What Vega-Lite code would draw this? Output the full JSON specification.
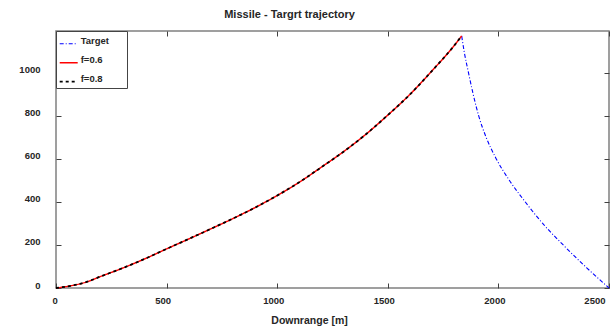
{
  "$schema": "https://vega.github.io/schema/vega-lite/v6.json",
  "autosize": {"type": "none"},
  "padding": {"left": 56, "top": 31, "right": 5, "bottom": 38},
  "width": 553,
  "height": 257,
  "background": "white",
  "title": {
    "text": "Missile - Targrt trajectory",
    "anchor": "middle",
    "frame": "group",
    "dx": -43,
    "offset": 2,
    "baseline": "alphabetic",
    "fontSize": 11,
    "font": "Liberation Sans",
    "fontWeight": "bold",
    "color": "#262626"
  },
  "config": {
    "view": {"stroke": "#808080", "strokeWidth": 1.5},
    "axis": {
      "domain": false,
      "grid": false,
      "tickColor": "#404040",
      "tickWidth": 1,
      "tickSize": -5,
      "labelFont": "Liberation Sans",
      "labelFontWeight": "bold",
      "labelFontSize": 9.5,
      "labelColor": "#262626",
      "titleFont": "Liberation Sans",
      "titleFontWeight": "bold",
      "titleFontSize": 10.5,
      "titleColor": "#262626"
    }
  },
  "data": {
    "values": [
      {"series": "Target", "x": 1834, "y": 1172},
      {"series": "Target", "x": 1846, "y": 1095},
      {"series": "Target", "x": 1865, "y": 1000},
      {"series": "Target", "x": 1886, "y": 901},
      {"series": "Target", "x": 1911, "y": 800},
      {"series": "Target", "x": 1944, "y": 702},
      {"series": "Target", "x": 1988, "y": 605},
      {"series": "Target", "x": 2050, "y": 500},
      {"series": "Target", "x": 2120, "y": 402},
      {"series": "Target", "x": 2203, "y": 297},
      {"series": "Target", "x": 2293, "y": 200},
      {"series": "Target", "x": 2398, "y": 95},
      {"series": "Target", "x": 2500, "y": 0},
      {"series": "f=0.6", "x": 0, "y": 0},
      {"series": "f=0.6", "x": 60, "y": 9},
      {"series": "f=0.6", "x": 138, "y": 28},
      {"series": "f=0.6", "x": 200, "y": 53},
      {"series": "f=0.6", "x": 300, "y": 92},
      {"series": "f=0.6", "x": 400, "y": 135},
      {"series": "f=0.6", "x": 500, "y": 182},
      {"series": "f=0.6", "x": 600, "y": 228},
      {"series": "f=0.6", "x": 700, "y": 275},
      {"series": "f=0.6", "x": 800, "y": 323},
      {"series": "f=0.6", "x": 900, "y": 374},
      {"series": "f=0.6", "x": 1000, "y": 430},
      {"series": "f=0.6", "x": 1100, "y": 492},
      {"series": "f=0.6", "x": 1200, "y": 562},
      {"series": "f=0.6", "x": 1300, "y": 634},
      {"series": "f=0.6", "x": 1400, "y": 714},
      {"series": "f=0.6", "x": 1500, "y": 804},
      {"series": "f=0.6", "x": 1600, "y": 900},
      {"series": "f=0.6", "x": 1700, "y": 1010},
      {"series": "f=0.6", "x": 1800, "y": 1127},
      {"series": "f=0.6", "x": 1834, "y": 1172},
      {"series": "f=0.8", "x": 0, "y": 0},
      {"series": "f=0.8", "x": 60, "y": 9},
      {"series": "f=0.8", "x": 138, "y": 28},
      {"series": "f=0.8", "x": 200, "y": 53},
      {"series": "f=0.8", "x": 300, "y": 92},
      {"series": "f=0.8", "x": 400, "y": 135},
      {"series": "f=0.8", "x": 500, "y": 182},
      {"series": "f=0.8", "x": 600, "y": 228},
      {"series": "f=0.8", "x": 700, "y": 275},
      {"series": "f=0.8", "x": 800, "y": 323},
      {"series": "f=0.8", "x": 900, "y": 374},
      {"series": "f=0.8", "x": 1000, "y": 430},
      {"series": "f=0.8", "x": 1100, "y": 492},
      {"series": "f=0.8", "x": 1200, "y": 562},
      {"series": "f=0.8", "x": 1300, "y": 634},
      {"series": "f=0.8", "x": 1400, "y": 714},
      {"series": "f=0.8", "x": 1500, "y": 804},
      {"series": "f=0.8", "x": 1600, "y": 900},
      {"series": "f=0.8", "x": 1700, "y": 1010},
      {"series": "f=0.8", "x": 1800, "y": 1127},
      {"series": "f=0.8", "x": 1834, "y": 1172}
    ]
  },
  "layer": [
    {
      "mark": {"type": "line", "interpolate": "monotone"},
      "encoding": {
        "x": {
          "field": "x", "type": "quantitative",
          "scale": {"domain": [0, 2500], "nice": false, "zero": false},
          "axis": {
            "orient": "bottom",
            "values": [0, 500, 1000, 1500, 2000, 2500],
            "format": "d",
            "labelPadding": 12,
            "labelOffset": -4,
            "title": "Downrange [m]",
            "titleX": 253,
            "titleY": 32,
            "titleAlign": "center",
            "titleBaseline": "middle"
          }
        },
        "y": {
          "field": "y", "type": "quantitative",
          "scale": {"domain": [0, 1195], "nice": false, "zero": false},
          "axis": {
            "orient": "left",
            "values": [0, 200, 400, 600, 800, 1000],
            "format": "d",
            "labelPadding": 21,
            "labelOffset": -3,
            "title": null
          }
        },
        "color": {
          "field": "series", "type": "nominal",
          "scale": {"domain": ["Target", "f=0.6", "f=0.8"], "range": ["#0000ff", "#ff0000", "#000000"]},
          "legend": {
            "title": "\u00a0",
            "titleOrient": "right",
            "titleAngle": 0,
            "titlePadding": 15,
            "titleFontSize": 9.5,
            "titleFont": "Liberation Sans",
            "orient": "top-left",
            "offset": 0,
            "padding": 2.7,
            "fillColor": "white",
            "strokeColor": "#444444",
            "symbolType": "stroke",
            "symbolSize": 324,
            "labelOffset": 2,
            "rowPadding": 6,
            "labelBaseline": "alphabetic",
            "labelFont": "Liberation Sans",
            "labelFontWeight": "bold",
            "labelFontSize": 9.5,
            "labelColor": "#262626"
          }
        },
        "strokeDash": {
          "field": "series", "type": "nominal",
          "scale": {"domain": ["Target", "f=0.6", "f=0.8"], "range": [[4, 2, 1, 2], [1, 0], [3, 3]]}
        },
        "strokeWidth": {
          "field": "series", "type": "nominal",
          "scale": {"domain": ["Target", "f=0.6", "f=0.8"], "range": [1.1, 1.8, 0.7]}
        }
      }
    },
    {
      "mark": {"type": "point", "opacity": 0},
      "encoding": {
        "x": {
          "field": "x", "type": "quantitative",
          "axis": {"orient": "top", "values": [0, 500, 1000, 1500, 2000, 2500], "labels": false, "title": null}
        },
        "y": {
          "field": "y", "type": "quantitative",
          "axis": {"orient": "right", "values": [0, 200, 400, 600, 800, 1000], "labels": false, "title": null}
        }
      }
    }
  ],
  "resolve": {"axis": {"x": "independent", "y": "independent"}}
}
